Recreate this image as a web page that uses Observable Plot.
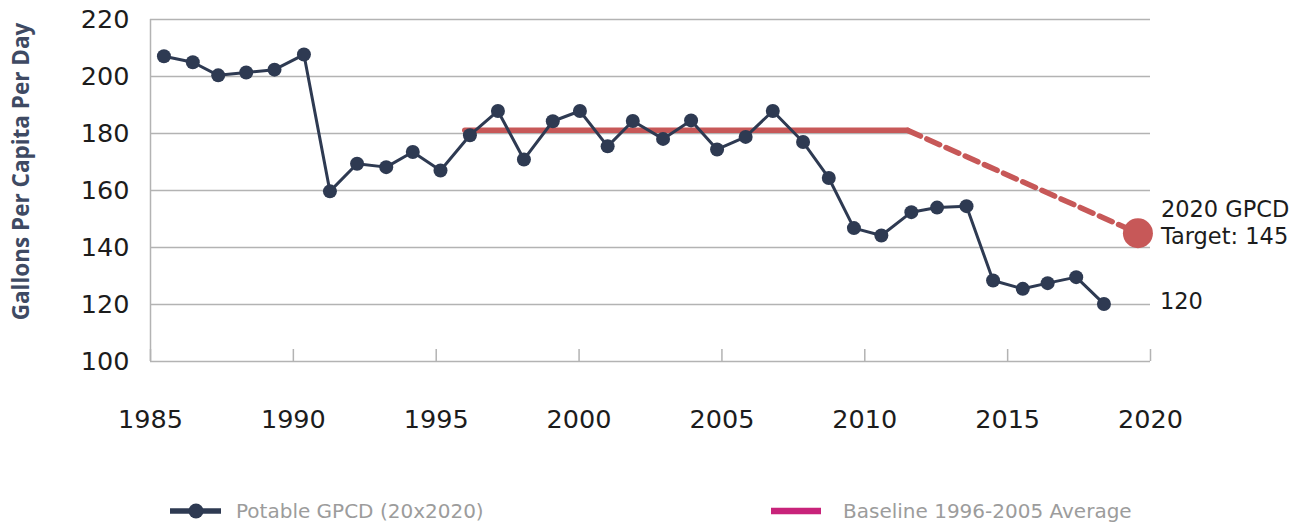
<!DOCTYPE html>
<html>
<head>
<meta charset="utf-8">
<script src="https://cdn.jsdelivr.net/npm/d3@7"></script>
<script src="https://cdn.jsdelivr.net/npm/@observablehq/plot@0.6"></script>
<style>
  html, body { margin: 0; padding: 0; background: #fff; }
  #wrap { position: relative; width: 1299px; height: 525px; font-family: "DejaVu Sans", sans-serif; }
  #legend { position: absolute; left: 0; top: 0; width: 1299px; height: 525px; pointer-events: none; }
  .li { position: absolute; top: 499px; display: flex; align-items: center; height: 24px; color: #9c9c9c; font-size: 20px; }
  .li svg { margin-right: 14px; }
</style>
</head>
<body>
<div id="wrap"><div id="chart"></div><div id="legend"></div></div>
<script>
// Potable GPCD series (x positions, in years)
const years = [1985.47, 1986.48, 1987.37, 1988.35, 1989.34, 1990.37, 1991.28, 1992.23, 1993.25, 1994.18,
               1995.15, 1996.18, 1997.16, 1998.07, 1999.08, 2000.03, 2001.0, 2001.88, 2002.94, 2003.92,
               2004.83, 2005.83, 2006.78, 2007.84, 2008.74, 2009.62, 2010.58, 2011.63, 2012.53, 2013.56,
               2014.49, 2015.53, 2016.4, 2017.4, 2018.37];
const gpcd = [207.1, 205.0, 200.4, 201.4, 202.4, 207.7, 159.7, 169.4, 168.2, 173.5,
              167.0, 179.4, 187.9, 170.9, 184.3, 187.9, 175.5, 184.4, 178.1, 184.6,
              174.4, 178.8, 187.9, 177.0, 164.4, 146.8, 144.2, 152.4, 154.0, 154.5,
              128.4, 125.5, 127.5, 129.6, 120.2];
// Baseline average (solid) and path to target (dashed)
const baselineYears = [1996.0, 2011.5];
const baselineValues = [181.1, 181.1];
const targetPathYears = [2011.5, 2019.56];
const targetPathValues = [181.1, 145];
const targetYear = 2019.56;
const targetValue = 145;
const targetLabel = "2020 GPCD\nTarget: 145";
const latestLabel = "120";
const xTicks = [1985, 1990, 1995, 2000, 2005, 2010, 2015, 2020];
const yTicks = [100, 120, 140, 160, 180, 200, 220];
const yTitle = "Gallons Per Capita Per Day";
const legendLabels = ["Potable GPCD (20x2020)", "Baseline 1996-2005 Average"];

const series = years.map((y, i) => ({year: y, value: gpcd[i]}));
const baseline = baselineYears.map((y, i) => ({year: y, value: baselineValues[i]}));
const targetPath = targetPathYears.map((y, i) => ({year: y, value: targetPathValues[i]}));
const last = series[series.length - 1];

const navy = "#2e3a52";
const red = "#c75858";
const grid = "#b3b3b3";
const ink = "#1c1c1c";

const chart = Plot.plot({
  width: 1299,
  height: 470,
  marginLeft: 150,
  marginRight: 149,
  marginTop: 19,
  marginBottom: 109,
  style: {fontFamily: "'DejaVu Sans', sans-serif", background: "transparent"},
  x: {domain: [1985, 2020]},
  y: {domain: [100, 220]},
  marks: [
    Plot.gridY(yTicks.slice(1), {stroke: grid, strokeOpacity: 1, strokeWidth: 1.5}),
    Plot.ruleY([100], {stroke: grid, strokeWidth: 1.5}),
    Plot.ruleX([1985], {stroke: grid, strokeWidth: 1.5}),
    Plot.axisX({ticks: xTicks, tickSize: -12, stroke: grid, strokeWidth: 1.5, tickFormat: () => "", label: null}),
    Plot.axisX({ticks: xTicks, tickSize: 0, tickPadding: 48, tickFormat: d => String(d), fontSize: 25.5, fill: ink, label: null}),
    Plot.axisY({ticks: yTicks, tickSize: 0, tickPadding: 21, fontSize: 25.5, fill: ink, label: null}),
    Plot.text([yTitle], {frameAnchor: "left", textAnchor: "middle", dx: -129, dy: -19, rotate: -90, fontSize: 22.5, fontWeight: "bold", fontFamily: "'Open Sans', sans-serif", fill: "#3e4a63"}),
    Plot.line(baseline, {x: "year", y: "value", stroke: red, strokeWidth: 5.5}),
    Plot.line(targetPath, {x: "year", y: "value", stroke: red, strokeWidth: 5.5, strokeDasharray: "14,7"}),
    Plot.dot([{year: targetYear, value: targetValue}], {x: "year", y: "value", r: 15, fill: red}),
    Plot.line(series, {x: "year", y: "value", stroke: navy, strokeWidth: 3}),
    Plot.dot(series, {x: "year", y: "value", r: 7, fill: navy}),
    Plot.text([{year: targetYear, value: targetValue, t: targetLabel}], {x: "year", y: "value", text: "t", dx: 23, dy: -11, textAnchor: "start", fontSize: 22.5, lineHeight: 1.2, fill: ink}),
    Plot.text([{...last, t: latestLabel}], {x: "year", y: "value", text: "t", dx: 56, dy: -2, textAnchor: "start", fontSize: 22.5, fill: ink})
  ]
});
document.getElementById("chart").appendChild(chart);

const legend = document.getElementById("legend");
legend.innerHTML = `
  <div class="li" style="left:170px">
    <svg width="51" height="20"><line x1="0" y1="10" x2="51" y2="10" stroke="${navy}" stroke-width="5.5"/><circle cx="26" cy="10" r="7.5" fill="${navy}"/></svg>
    <span style="margin-left:1px">${legendLabels[0]}</span>
  </div>
  <div class="li" style="left:771px">
    <svg width="50" height="20"><line x1="0" y1="10" x2="50" y2="10" stroke="#c8237a" stroke-width="6.5"/></svg>
    <span style="margin-left:8px">${legendLabels[1]}</span>
  </div>`;
</script>
</body>
</html>
